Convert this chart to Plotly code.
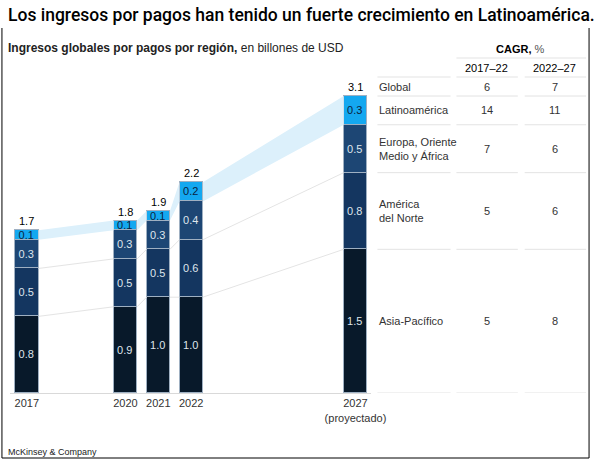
import plotly.graph_objects as go

# data (billions of USD)
years = [2017, 2020, 2021, 2022, 2027]
year_labels = ["2017", "2020", "2021", "2022", "2027<br>(proyectado)"]
asia_pacifico = [0.8, 0.9, 1.0, 1.0, 1.5]
america_norte = [0.5, 0.5, 0.5, 0.6, 0.8]
europa_oma = [0.3, 0.3, 0.3, 0.4, 0.5]
latinoamerica = [0.1, 0.1, 0.1, 0.2, 0.3]
totals = [1.7, 1.8, 1.9, 2.2, 3.1]

# CAGR table
regions = ["Global", "Latinoamérica", "Europa, Oriente<br>Medio y África",
           "América<br>del Norte", "Asia-Pacífico"]
cagr_17_22 = [6, 14, 7, 5, 5]
cagr_22_27 = [7, 11, 6, 6, 8]

W, H = 606, 460
PX_YEAR = 33.7
BAR_W = 24 / PX_YEAR
PX_UNIT = 95.8


def px_x(p):
    return p / W


def px_y(p):
    return 1 - p / H


series = [
    ("Asia-Pacífico", asia_pacifico, "#08192a", "#dfe5ec"),
    ("América del Norte", america_norte, "#143660", "#dfe5ec"),
    ("Europa, Oriente Medio y África", europa_oma, "#1d4674", "#dfe5ec"),
    ("Latinoamérica", latinoamerica, "#14a8f0", "#0b2340"),
]

fig = go.Figure()

# cumulative tops
cum = []
run = [0.0] * len(years)
for _, vals, _, _ in series:
    run = [r + v for r, v in zip(run, vals)]
    cum.append(run)

#* light blue band joining the Latinoamérica segments
bx, by = [], []
for i in range(len(years) - 1):
    x0 = years[i] + BAR_W / 2
    x1 = years[i + 1] - BAR_W / 2
    bx += [x0, x1, x1, x0, x0, None]
    by += [cum[3][i], cum[3][i + 1], cum[2][i + 1], cum[2][i], cum[3][i], None]
fig.add_trace(go.Scatter(x=bx, y=by, mode="lines", fill="toself",
                         fillcolor="#dcf0fb", line=dict(width=0),
                         hoverinfo="skip", showlegend=False))

#* thin grey connectors at segment boundaries
for level in (cum[0], cum[1]):
    lx, ly = [], []
    for i in range(len(years) - 1):
        lx += [years[i] + BAR_W / 2, years[i + 1] - BAR_W / 2, None]
        ly += [level[i], level[i + 1], None]
    fig.add_trace(go.Scatter(x=lx, y=ly, mode="lines",
                             line=dict(color="#e4e4e4", width=1),
                             hoverinfo="skip", showlegend=False))

for name, vals, color, tcolor in series:
    fig.add_trace(go.Bar(
        x=years, y=vals, name=name, width=BAR_W,
        marker=dict(color=color, line=dict(color="#9fb0c2", width=1)),
        text=[f"{v:.1f}" for v in vals],
        textposition="inside", insidetextanchor="middle", textangle=0,
        textfont=dict(color=tcolor, size=11),
        hoverinfo="skip", showlegend=False,
    ))

annotations = []
#* totals above the bars
for x, t in zip(years, totals):
    annotations.append(dict(x=x, y=t, xref="x", yref="y", text=f"{t:.1f}",
                            showarrow=False, xanchor="center", yanchor="bottom",
                            yshift=1, font=dict(size=11, color="#000")))

#* table rows aligned to the 2027 bar
last = len(years) - 1
row_y = [totals[last]]
for k in range(3, -1, -1):
    lo = cum[k - 1][last] if k > 0 else 0
    row_y.append((lo + cum[k][last]) / 2)
col_label_x, col1_x, col2_x = 387, 499, 569
for j, (reg, a, b) in enumerate(zip(regions, cagr_17_22, cagr_22_27)):
    anchor = "bottom" if j == 0 else "middle"
    shift = 1 if j == 0 else 0
    annotations.append(dict(x=px_x(col_label_x), y=row_y[j], xref="paper", yref="y",
                            text=reg, showarrow=False, xanchor="left", align="left",
                            yanchor=anchor, yshift=shift,
                            font=dict(size=11, color="#333")))
    for cx, v in ((col1_x, a), (col2_x, b)):
        annotations.append(dict(x=px_x(cx), y=row_y[j], xref="paper", yref="y",
                                text=str(v), showarrow=False, xanchor="center",
                                yanchor=anchor, yshift=shift,
                                font=dict(size=11, color="#333")))

#* headers and titles
annotations += [
    dict(x=px_x(6), y=px_y(15), xref="paper", yref="paper", xanchor="left",
         yanchor="middle",
         text="Los ingresos por pagos han tenido un fuerte crecimiento en Latinoamérica.",
         showarrow=False, font=dict(family="Roboto", size=17.5, color="#000", weight=500)),
    dict(x=px_x(6), y=px_y(48), xref="paper", yref="paper", xanchor="left",
         yanchor="middle",
         text="<b>Ingresos globales por pagos por región,</b> en billones de USD",
         showarrow=False, font=dict(size=12, color="#222")),
    dict(x=px_x(534), y=px_y(49), xref="paper", yref="paper", xanchor="center",
         yanchor="middle", text="<b>CAGR,</b> <span style='color:#555'>%</span>",
         showarrow=False, font=dict(size=11, color="#000")),
    dict(x=px_x(col1_x), y=px_y(68), xref="paper", yref="paper", text="2017–22",
         xanchor="center", yanchor="middle",
         showarrow=False, font=dict(size=11, color="#000")),
    dict(x=px_x(col2_x), y=px_y(68), xref="paper", yref="paper", text="2022–27",
         xanchor="center", yanchor="middle",
         showarrow=False, font=dict(size=11, color="#000")),
    dict(x=px_x(6), y=px_y(452), xref="paper", yref="paper", xanchor="left",
         yanchor="middle", text="McKinsey & Company", showarrow=False,
         font=dict(size=9, color="#222")),
]

shapes = []
cols = [(387, 462), (468, 531), (538, 601)]
bounds = [totals[last]] + [cum[k][last] for k in range(2, -1, -1)] + [0]
for yb in bounds:
    for c0, c1 in cols:
        shapes.append(dict(type="line", xref="paper", yref="y",
                           x0=px_x(c0), x1=px_x(c1), y0=yb, y1=yb,
                           line=dict(color="#e3e3e3", width=1)))
for c0, c1 in cols:
    shapes.append(dict(type="line", xref="paper", yref="paper",
                       x0=px_x(c0), x1=px_x(c1), y0=px_y(77), y1=px_y(77),
                       line=dict(color="#e3e3e3", width=1)))
shapes.append(dict(type="line", xref="paper", yref="paper",
                   x0=px_x(468), x1=px_x(601), y0=px_y(58), y1=px_y(58),
                   line=dict(color="#e3e3e3", width=1)))
#* card border
shapes.append(dict(type="path", xref="paper", yref="paper",
                   path=f"M {px_x(2)},{px_y(28)} L {px_x(2)},{px_y(458)} "
                        f"L {px_x(604)},{px_y(458)} L {px_x(604)},{px_y(28)}",
                   line=dict(color="#000", width=1)))

fig.update_layout(
    width=W, height=H,
    margin=dict(l=0, r=0, t=0, b=0),
    paper_bgcolor="white", plot_bgcolor="white",
    font=dict(family="Liberation Sans, Arial, sans-serif", size=11, color="#333"),
    barmode="stack", bargap=0,
    uniformtext=dict(minsize=11, mode="show"),
    annotations=annotations, shapes=shapes,
    xaxis=dict(domain=[px_x(10), px_x(380)],
               range=[2017 - 17.5 / PX_YEAR, 2017 + 352.5 / PX_YEAR],
               tickvals=years, ticktext=year_labels, ticks="",
               showgrid=False, zeroline=False,
               showline=True, linecolor="#d9d9d9", linewidth=1,
               tickfont=dict(size=11, color="#333")),
    yaxis=dict(domain=[px_y(393), px_y(40)],
               range=[0, (393 - 40) / PX_UNIT],
               visible=False, showgrid=False, zeroline=False),
)

#* the page body has a default 8px margin; drop it so the figure sits at 0,0
fig.write_html("out.html", config={"displayModeBar": False},
               post_script="document.body.style.margin='0';")
